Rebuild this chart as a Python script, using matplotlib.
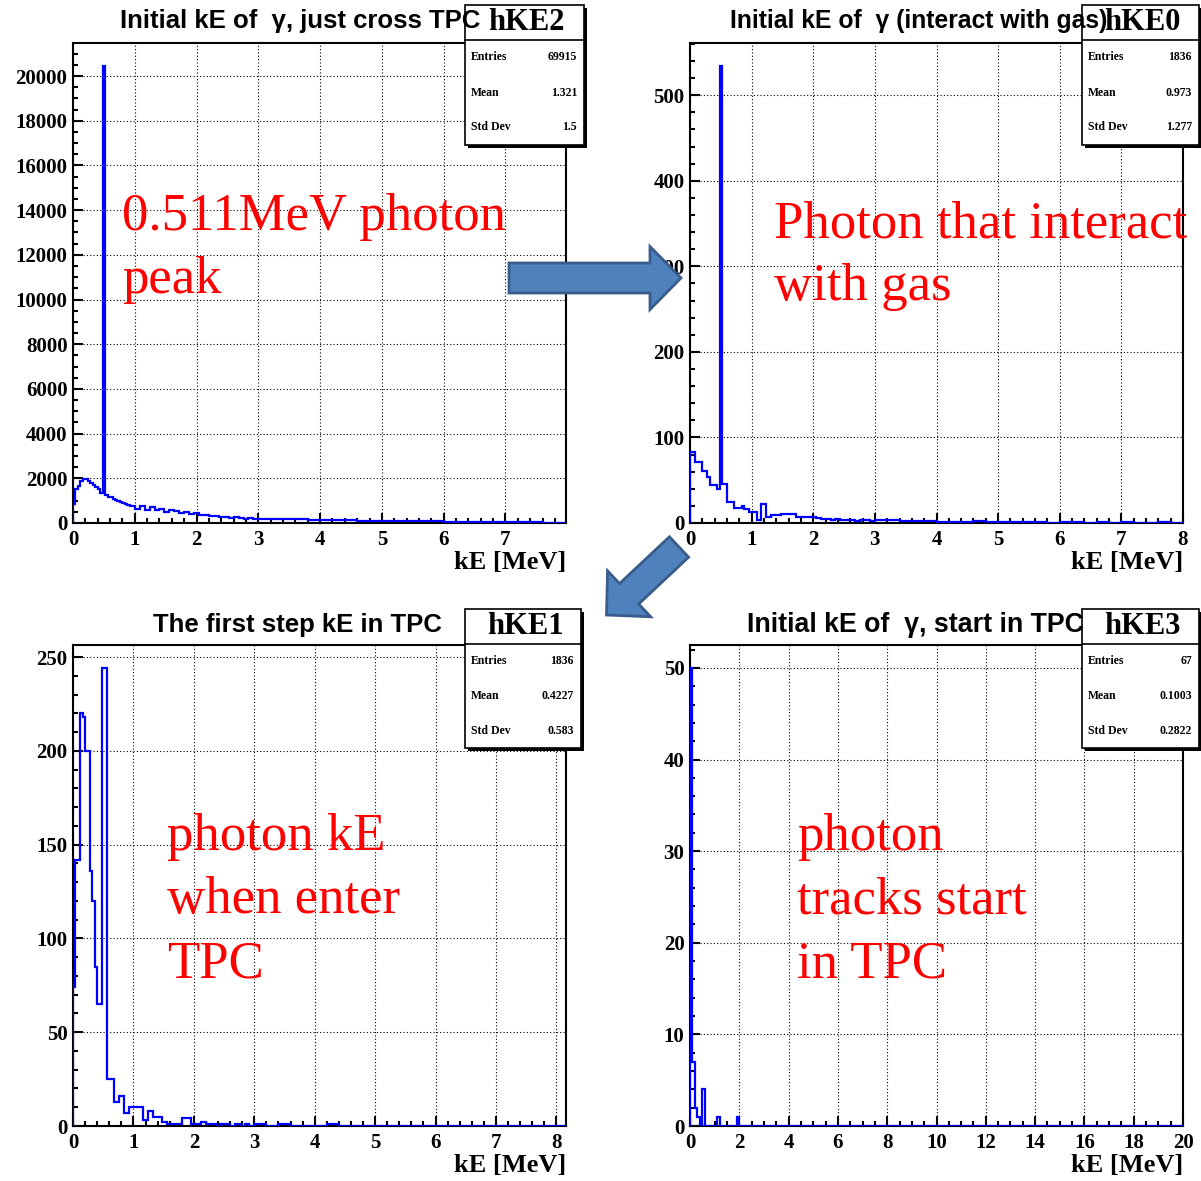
import numpy as np
import matplotlib
matplotlib.use("Agg")
import matplotlib.pyplot as plt
from matplotlib.patches import FancyArrow, Rectangle
from matplotlib.ticker import MultipleLocator, StrMethodFormatter

SERIF = "Liberation Serif"
SANS = "Liberation Sans"
BLUE = "#0000ff"

plt.rcParams["font.family"] = SERIF
plt.rcParams["font.weight"] = "bold"

# bin edges in MeV: 0.04 up to 1 MeV, 0.08 up to 3 MeV, 0.2 up to 8 MeV
edges_ke = np.concatenate([np.linspace(0.0, 1.0, 26)[:-1],
                           np.linspace(1.0, 3.0, 26)[:-1],
                           np.linspace(3.0, 8.0, 26)])
edges_ke1 = np.append(edges_ke, 8.16)
edges_ke3 = np.concatenate([np.linspace(0.0, 2.0, 21), np.arange(3.0, 21.0)])

# hKE2: initial kE of gammas that just cross the TPC
counts_ke2 = [850, 1500, 1650, 1900, 1950, 1980, 1880, 1780, 1700, 1600, 1500, 1350, 20450,
              1250, 1180, 1150, 1080, 1030, 980, 950, 880, 830, 800, 760, 740,
              620, 780, 600, 720, 560, 620, 500, 560, 520, 460, 480, 420, 440,
              350, 340, 320, 300, 290, 280, 230, 250, 220, 200, 210, 190,
              180, 170, 160, 190, 150, 130, 120, 140, 110, 100, 100, 90, 80,
              80, 70, 60, 60, 50, 50, 40, 40, 30, 30, 20, 20]
# hKE0: gammas interacting with the gas
counts_ke0 = [83, 83, 71, 71, 71, 61, 61, 54, 44, 44, 44, 40, 534,
              46, 46, 25, 25, 25, 18, 18, 18, 20, 16, 16, 13,
              13, 4, 22, 7, 9, 9, 10, 10, 10, 7, 7, 7, 7, 6, 5, 5, 4, 5, 3, 3, 3, 2, 4, 3, 2,
              3, 4, 2, 2, 2, 1, 1, 1, 2, 1, 1, 1, 1, 1, 0, 1, 1, 0, 1, 0, 1, 0, 0, 1, 0]
# hKE1: first step kE inside the TPC
counts_ke1 = [74, 142, 142, 220, 218, 200, 200, 136, 120, 85, 65, 65, 244,
              244, 25, 25, 25, 13, 13, 16, 16, 7, 7, 10, 10,
              10, 10, 3, 8, 5, 5, 2, 1, 1, 1, 4, 4, 1, 1, 2, 1, 1, 0, 1, 1, 0, 1, 0, 1, 0,
              1, 0, 1, 0, 0, 0, 1, 0, 0, 0, 0, 0, 0, 0, 0, 0, 0, 0, 0, 0, 0, 0, 0, 0, 0,
              0]
# hKE3: gammas starting in the TPC
counts_ke3 = [50, 7, 2, 1, 0, 4, 0, 0, 0, 0, 0, 1, 0, 0, 0, 0, 0, 0, 0, 1,
              0, 0, 0, 0, 0, 0, 0, 0, 0, 0, 0, 0, 0, 0, 0, 0, 0, 0]

hist_names = ["hKE2", "hKE0", "hKE1", "hKE3"]
titles = ["Initial kE of  \u03b3, just cross TPC",
          "Initial kE of  \u03b3 (interact with gas)",
          "The first step kE in TPC",
          "Initial kE of  \u03b3, start in TPC"]
entries = ["69915", "1836", "1836", "67"]
means = ["1.321", "0.973", "0.4227", "0.1003"]
std_devs = ["1.5", "1.277", "0.583", "0.2822"]
notes = [["0.511MeV photon", "peak"],
         ["Photon that interact", "with gas"],
         ["photon kE", "when enter", "TPC"],
         ["photon", "tracks start", "in TPC"]]

W, H = 1201, 1181
fig = plt.figure(figsize=(W / 100, H / 100), dpi=100)


def px_axes(left, top, right, bottom):
    return fig.add_axes([left / W, 1 - bottom / H, (right - left) / W, (bottom - top) / H])


panels = [
    dict(counts=counts_ke2, edges=edges_ke, box=(73, 43, 566, 523),
         xlim=(0, 7.98), ylim=(0, 21480), xt=(1, 0.2), yt=(2000, 500)),
    dict(counts=counts_ke0, edges=edges_ke, box=(690, 43, 1183, 523),
         xlim=(0, 8), ylim=(0, 561), xt=(1, 0.2), yt=(100, 20)),
    dict(counts=counts_ke1, edges=edges_ke1, box=(73, 645, 566, 1126),
         xlim=(0, 8.16), ylim=(0, 256.4), xt=(1, 0.2), yt=(50, 10)),
    dict(counts=counts_ke3, edges=edges_ke3, box=(690, 645, 1183, 1126),
         xlim=(0, 20), ylim=(0, 52.5), xt=(2, 0.5), yt=(10, 2)),
]

for p in panels:
    ax = px_axes(*p["box"])
    ax.stairs(p["counts"], p["edges"], color=BLUE, linewidth=1.6, baseline=0, zorder=3)
    ax.set_xlim(*p["xlim"])
    ax.set_ylim(*p["ylim"])
    ax.xaxis.set_major_locator(MultipleLocator(p["xt"][0]))
    ax.xaxis.set_minor_locator(MultipleLocator(p["xt"][1]))
    ax.yaxis.set_major_locator(MultipleLocator(p["yt"][0]))
    ax.yaxis.set_minor_locator(MultipleLocator(p["yt"][1]))
    ax.xaxis.set_major_formatter(StrMethodFormatter("{x:.0f}"))
    ax.yaxis.set_major_formatter(StrMethodFormatter("{x:.0f}"))
    ax.grid(True, which="major", color="black", linestyle=(0, (1, 2)), linewidth=0.8)
    ax.tick_params(which="both", direction="in", top=False, right=False, width=1.5)
    ax.tick_params(which="major", length=7, labelsize=15)
    ax.tick_params(which="minor", length=3.5)
    ax.tick_params(axis="x", pad=5)
    ax.tick_params(axis="y", pad=4)
    for s in ax.spines.values():
        s.set_linewidth(1.5)
    ax.set_xlabel("kE [MeV]", loc="right", fontsize=19, fontweight="bold", labelpad=1)

# overlay in pixel coordinates for titles, stat boxes, arrows and notes
ov = fig.add_axes([0, 0, 1, 1])
ov.set_xlim(0, W)
ov.set_ylim(H, 0)
ov.axis("off")
ov.set_zorder(10)

stat_boxes = [(465, 5, 584, 145), (1082, 5, 1199, 145),
              (465, 609, 581, 748), (1082, 609, 1199, 748)]
for (l, t, r, b), name, n, m, sd in zip(stat_boxes, hist_names, entries, means, std_devs):
    ov.add_patch(Rectangle((l + 3, t + 3), r - l, b - t, facecolor="black", zorder=2))
    ov.add_patch(Rectangle((l, t), r - l, b - t, facecolor="white",
                           edgecolor="black", linewidth=1.2, zorder=3))
    head = t + 35
    ov.plot([l, r], [head, head], color="black", linewidth=1.2, zorder=4)
    ov.text((l + r) / 2 + 2, t + 18, name, ha="center", va="center", fontsize=22, zorder=5)
    row_h = (b - head) / 3
    for i, (lab, val) in enumerate([("Entries", n), ("Mean", m), ("Std Dev", sd)]):
        yc = head + row_h * (i + 0.5)
        ov.text(l + 6, yc, lab, ha="left", va="center", fontsize=8.5, zorder=5)
        ov.text(r - 7, yc, val, ha="right", va="center", fontsize=8.5, zorder=5)

# panel titles sit on top of the stat box frames
title_pos = [(120, 28, 18.5), (730, 28, 17.8), (153, 632, 18.5), (747, 632, 19.3)]
for (x0, base, size), title in zip(title_pos, titles):
    ov.text(x0, base, title, ha="left", va="baseline", family=SANS,
            weight="bold", fontsize=size, zorder=6)

arrow_style = dict(facecolor="#4f81bd", edgecolor="#385d8a", linewidth=2,
                   length_includes_head=True, zorder=7)
ov.add_patch(FancyArrow(509, 278, 172, 0, width=30, head_width=63,
                        head_length=31, **arrow_style))
ov.add_patch(FancyArrow(679, 547, -72.5, 68, width=28, head_width=63,
                        head_length=31, **arrow_style))

note_pos = [(122, [230, 293]), (774, [238, 300]),
            (167, [850, 913, 977]), (797, [850, 913, 977])]
for (x, bases), lines in zip(note_pos, notes):
    for y, line in zip(bases, lines):
        ov.text(x, y, line, color="red", family=SERIF, weight="normal",
                fontsize=38, va="baseline", ha="left", zorder=8)

fig.savefig("out.png", dpi=100)
